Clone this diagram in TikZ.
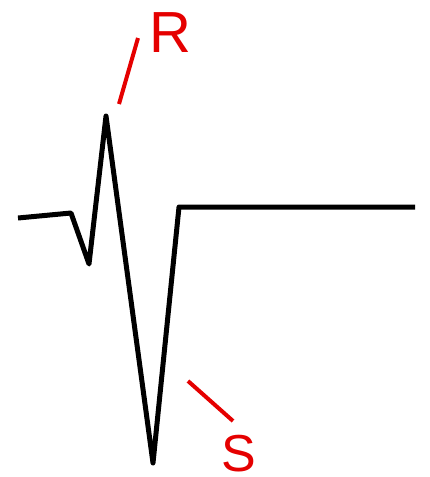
\documentclass[tikz,border=0pt]{standalone}
\usepackage{fontspec}
\setmainfont{Liberation Sans}
\begin{document}
\begin{tikzpicture}[x=1pt,y=-1pt,
  wave/.style={line width=5pt,black,line join=round,line cap=butt},
  marker/.style={line width=4pt,red!90!black},
  lbl/.style={text=red!90!black,inner sep=0pt,anchor=base west,text depth=0pt}]
\useasboundingbox (0,0) rectangle (429,477);
\coordinate (p0) at (18,218);
\coordinate (p1) at (71,213);
\coordinate (p2) at (89,264);
\coordinate (p3) at (106,116);
\coordinate (p4) at (153,463);
\coordinate (p5) at (179,207);
\coordinate (p6) at (415,207);
\draw[wave] (p0) -- (p1) -- (p2) -- (p3) -- (p4) -- (p5) -- (p6);
\coordinate (ra) at (119,104);
\coordinate (rb) at (138,38);
\draw[marker] (ra) -- (rb);
\coordinate (sa) at (188,381);
\coordinate (sb) at (233,421);
\draw[marker] (sa) -- (sb);
\node[lbl,font=\fontsize{58}{58}\selectfont] (R) at (149.5,52) {R};
\node[lbl,font=\fontsize{52}{52}\selectfont] (S) at (221.5,471) {S};
\end{tikzpicture}
\end{document}
